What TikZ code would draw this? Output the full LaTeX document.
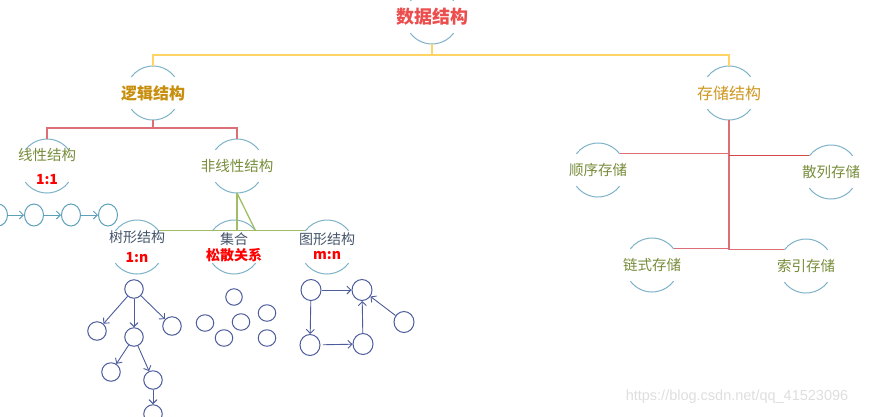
\documentclass[tikz,border=0pt]{standalone}
\usepackage{fontspec}
\newfontfamily\cjk{Noto Sans CJK SC}
\newfontfamily\wmfont{Liberation Sans}
\usetikzlibrary{arrows.meta,shapes.geometric}
\definecolor{titlered}{RGB}{236,78,78}
\definecolor{goldd}{RGB}{200,142,14}
\definecolor{golds}{RGB}{205,150,30}
\definecolor{olivet}{RGB}{118,140,58}
\definecolor{slatet}{RGB}{68,84,106}
\definecolor{arcblue}{RGB}{125,178,200}
\definecolor{yline}{RGB}{255,212,100}
\definecolor{rline}{RGB}{222,110,118}
\definecolor{rline2}{RGB}{214,72,72}
\definecolor{gline}{RGB}{160,190,100}
\definecolor{chainc}{RGB}{92,160,186}
\definecolor{treec}{RGB}{76,92,156}
\definecolor{wmgray}{RGB}{222,222,222}
\begin{document}
\begin{tikzpicture}[x=1pt,y=1pt,
  bub/.style={circle,minimum size=54pt,inner sep=0pt,outer sep=0pt},
  arcc/.style={draw=arcblue,line width=1pt},
  ttl/.style={font=\cjk\bfseries\fontsize{18}{20}\selectfont,text=titlered,inner sep=0pt},
  lvone/.style={font=\cjk\bfseries\fontsize{16}{18}\selectfont,text=goldd,inner sep=0pt},
  lvonen/.style={font=\cjk\fontsize{16}{18}\selectfont,text=golds,inner sep=0pt},
  olv/.style={font=\cjk\fontsize{14.5}{17}\selectfont,text=olivet,inner sep=0pt},
  slt/.style={font=\cjk\fontsize{14}{16}\selectfont,text=slatet,inner sep=0pt},
  rto/.style={font=\cjk\bfseries\fontsize{14}{16}\selectfont,text=red,inner sep=0pt},
  yl/.style={draw=yline,line width=1.4pt},
  rl/.style={draw=rline,line width=1.4pt},
  rltwo/.style={draw=rline2,line width=1.4pt},
  gl/.style={draw=gline,line width=1.3pt},
  chn/.style={ellipse,draw=chainc,line width=1pt,minimum width=19pt,minimum height=22pt,inner sep=0pt},
  tc/.style={circle,draw=treec,line width=1pt,minimum size=18.5pt,inner sep=0pt},
  sc/.style={ellipse,draw=treec,line width=1pt,minimum width=17.5pt,minimum height=16.5pt,inner sep=0pt},
  gc/.style={ellipse,draw=treec,line width=1pt,minimum width=20pt,minimum height=21pt,inner sep=0pt},
  arr/.style={-{Straight Barb[length=4pt,width=8pt]},line width=0.9pt},
]
\useasboundingbox (0,0) rectangle (869,-416);

% bubbles
\node[bub] (root) at (432,-17) {};
\node[bub] (logic) at (153,-93) {};
\node[bub] (store) at (729,-93) {};
\node[bub] (lin) at (47,-166) {};
\node[bub] (nonlin) at (237,-166) {};
\node[bub] (tree) at (137,-247) {};
\node[bub] (set) at (234,-247) {};
\node[bub] (graph) at (327,-247) {};
\node[bub] (seq) at (598,-170) {};
\node[bub] (hash) at (831,-172) {};
\node[bub] (chain) at (652,-265) {};
\node[bub] (index) at (806,-266) {};

\foreach \n in {root,logic,store,lin,nonlin,tree,set,graph,seq,hash,chain,index}{
  \draw[arcc] (\n.37) arc[start angle=37,end angle=143,radius=27];
  \draw[arcc] (\n.217) arc[start angle=217,end angle=323,radius=27];
}

% texts
\node[ttl] (rootT) at (root) {数据结构};
\node[lvone] (logicT) at (logic) {逻辑结构};
\node[lvonen] (storeT) at (store) {存储结构};
\node[olv] (linT) at (47,-155) {线性结构};
\node[rto] (linR) at (47,-180) {1:1};
\node[olv] (nonlinT) at (nonlin) {非线性结构};
\node[slt] (treeT) at (137,-237) {树形结构};
\node[rto] (treeR) at (137,-258) {1:n};
\node[slt] (setT) at (234,-239) {集合};
\node[rto] (setR) at (234,-255) {松散关系};
\node[slt] (graphT) at (327,-239) {图形结构};
\node[rto] (graphR) at (327,-256) {m:n};
\node[olv] (seqT) at (seq) {顺序存储};
\node[olv] (hashT) at (hash) {散列存储};
\node[olv] (chainT) at (chain) {链式存储};
\node[olv] (indexT) at (index) {索引存储};

% junctions
\coordinate (yj) at (432,-55);
\coordinate (rj) at (153,-128);

% yellow
\draw[yl] (root.south) -- (yj);
\draw[yl] (logic.north) |- (yj) -| (store.north);
% red left
\draw[rl] (logic.south) -- (rj);
\draw[rl] (lin.north) |- (rj) -| (nonlin.north);
% green
\draw[gl] (tree.37) -- (graph.143);
\draw[gl] (nonlin.south) -- (nonlin.south |- tree.37);
\draw[gl] (nonlin.south) -- (set.37);
% red right
\draw[rl] (store.south) -- (store.south |- index.143);
\draw[rl] (seq.37) -- (seq.37 -| store.south);
\draw[rltwo] (hash.143) -- (hash.143 -| store.south);
\draw[rl] (chain.37) -- (chain.37 -| store.south);
\draw[rl] (index.143) -- (index.143 -| store.south);

% linear chain
\node[chn] (c0) at (-2,-215) {};
\node[chn] (c1) at (34,-215) {};
\node[chn] (c2) at (71,-215) {};
\node[chn] (c3) at (108,-215) {};
\draw[arr,draw=chainc] (c0) -- (c1);
\draw[arr,draw=chainc] (c1) -- (c2);
\draw[arr,draw=chainc] (c2) -- (c3);

% tree
\node[tc] (t0) at (134,-289) {};
\node[tc] (t1) at (97,-331) {};
\node[tc] (t2) at (134,-337) {};
\node[tc] (t3) at (172,-326) {};
\node[tc] (t4) at (111,-372) {};
\node[tc] (t5) at (153,-380) {};
\node[tc] (t6) at (153,-414) {};
\draw[arr,draw=treec] (t0) -- (t1);
\draw[arr,draw=treec] (t0) -- (t2);
\draw[arr,draw=treec] (t0) -- (t3);
\draw[arr,draw=treec] (t2) -- (t4);
\draw[arr,draw=treec] (t2) -- (t5);
\draw[arr,draw=treec] (t5) -- (t6);

% set
\node[sc,minimum width=16.5pt] (s0) at (234,-297) {};
\node[sc] (s1) at (205,-323) {};
\node[sc] (s2) at (241,-322) {};
\node[sc] (s3) at (267,-313) {};
\node[sc] (s4) at (224,-338) {};
\node[sc] (s5) at (267,-338) {};

% graph
\node[gc] (g0) at (311,-290) {};
\node[gc] (g1) at (362,-290) {};
\node[gc] (g2) at (310,-345) {};
\node[gc] (g3) at (363,-344) {};
\node[gc] (g4) at (404,-322) {};
\draw[arr,draw=treec] (g0) -- (g1);
\draw[arr,draw=treec] (g0) -- (g2);
\draw[arr,draw=treec,shorten <=2.5pt] (g2) -- (g3);
\draw[arr,draw=treec] (g3) -- (g1);
\draw[arr,draw=treec] (g4) -- (g1);

% watermark
\node[font=\wmfont\fontsize{14.5}{16}\selectfont,text=wmgray,inner sep=0pt] (wm) at (737,-397) {https://blog.csdn.net/qq\_41523096};
\end{tikzpicture}
\end{document}
